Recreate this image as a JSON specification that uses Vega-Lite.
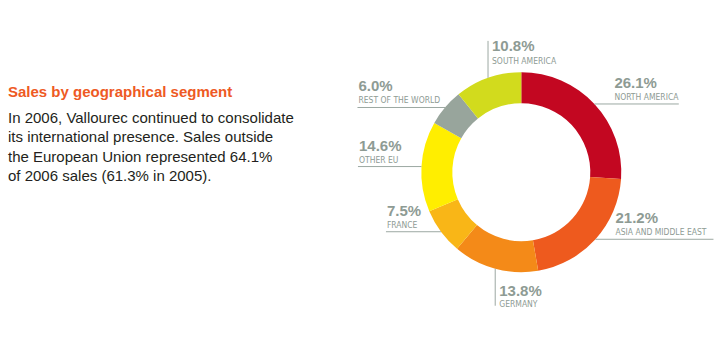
{
  "$schema": "https://vega.github.io/schema/vega-lite/v6.json",
  "width": 714,
  "height": 352,
  "autosize": {"type": "fit", "contains": "padding"},
  "padding": 0,
  "background": "white",
  "config": {"view": {"stroke": null}},
  "layer": [
    {
      "data": {"values": [
        {"region": "NORTH AMERICA", "share": 26.1},
        {"region": "ASIA AND MIDDLE EAST", "share": 21.2},
        {"region": "GERMANY", "share": 13.8},
        {"region": "FRANCE", "share": 7.5},
        {"region": "OTHER EU", "share": 14.6},
        {"region": "REST OF THE WORLD", "share": 6.0},
        {"region": "SOUTH AMERICA", "share": 10.8}
      ]},
      "transform": [
        {"window": [{"op": "row_number", "as": "idx"}]},
        {"stack": "share", "groupby": [], "sort": [{"field": "idx"}], "as": ["s0", "s1"]},
        {"calculate": "PI*(datum.s0+datum.s1)/100", "as": "mid"},
        {"calculate": "sin(datum.mid)", "as": "px"},
        {"calculate": "cos(datum.mid)", "as": "py"},
        {"calculate": "format(datum.share,'.1f')+'%'", "as": "pct"},
        {"calculate": "abs(datum.px)<0.5", "as": "vert"},
        {"calculate": "length(datum.pct)*0.085", "as": "wp"},
        {"calculate": "length(datum.region)*0.048", "as": "wn"},
        {"calculate": "datum.vert ? datum.px+0.04 : (datum.px>0 ? datum.px+0.2 : min(datum.px-0.2-datum.wp, datum.px-0.05-datum.wn))", "as": "tx"},
        {"calculate": "datum.vert ? datum.px : (datum.px>0 ? datum.tx+max(datum.wp,datum.wn)+0.02 : datum.tx-0.01)", "as": "ex"},
        {"calculate": "datum.vert ? (datum.py>0 ? datum.py+0.37 : datum.py-0.37) : datum.py", "as": "ey"},
        {"calculate": "datum.vert ? (datum.py>0 ? datum.ey-0.10 : datum.ey+0.10) : datum.py+0.16", "as": "pcty"},
        {"calculate": "datum.vert ? (datum.py>0 ? datum.ey-0.23 : datum.ey-0.016) : datum.py+0.04", "as": "namey"}
      ],
      "layer": [
        {
          "mark": {"type": "arc", "outerRadius": 100, "innerRadius": 69, "strokeWidth": 0},
          "encoding": {
            "theta": {"field": "share", "type": "quantitative", "stack": true},
            "order": {"field": "idx", "type": "quantitative"},
            "color": {
              "field": "region", "type": "nominal", "legend": null,
              "scale": {
                "domain": ["NORTH AMERICA", "ASIA AND MIDDLE EAST", "GERMANY", "FRANCE", "OTHER EU", "REST OF THE WORLD", "SOUTH AMERICA"],
                "range": ["#C30721", "#EE5A1E", "#F48A18", "#F9B617", "#FFEE00", "#98A59C", "#D2DB1D"]
              }
            },
            "x": {"datum": 0, "type": "quantitative", "scale": {"domain": [-5.213, 1.927], "nice": false, "zero": false}, "axis": null},
            "y": {"datum": 0, "type": "quantitative", "scale": {"domain": [-1.798, 1.722], "nice": false, "zero": false}, "axis": null}
          }
        },
        {
          "mark": {"type": "rule", "color": "#9CA8A2", "strokeWidth": 1},
          "encoding": {
            "x": {"field": "px", "type": "quantitative", "scale": {"domain": [-5.213, 1.927], "nice": false, "zero": false}, "axis": null},
            "y": {"field": "py", "type": "quantitative", "scale": {"domain": [-1.798, 1.722], "nice": false, "zero": false}, "axis": null},
            "x2": {"field": "ex"},
            "y2": {"field": "ey"}
          }
        },
        {
          "mark": {"type": "text", "align": "left", "baseline": "alphabetic", "font": "Liberation Sans", "fontWeight": "bold", "fontSize": 15, "color": "#8E9B94"},
          "encoding": {
            "x": {"field": "tx", "type": "quantitative", "scale": {"domain": [-5.213, 1.927], "nice": false, "zero": false}, "axis": null},
            "y": {"field": "pcty", "type": "quantitative", "scale": {"domain": [-1.798, 1.722], "nice": false, "zero": false}, "axis": null},
            "text": {"field": "pct"}
          }
        },
        {
          "mark": {"type": "text", "align": "left", "baseline": "alphabetic", "font": "DejaVu Sans Condensed, Liberation Sans, sans-serif", "fontSize": 8.5, "color": "#8E9B94"},
          "encoding": {
            "x": {"field": "tx", "type": "quantitative", "scale": {"domain": [-5.213, 1.927], "nice": false, "zero": false}, "axis": null},
            "y": {"field": "namey", "type": "quantitative", "scale": {"domain": [-1.798, 1.722], "nice": false, "zero": false}, "axis": null},
            "text": {"field": "region"}
          }
        }
      ]
    },
    {
      "data": {"values": [
        {"line": 0, "text": "Sales by geographical segment"},
        {"line": 1, "text": "In 2006, Vallourec continued to consolidate"},
        {"line": 2, "text": "its international presence. Sales outside"},
        {"line": 3, "text": "the European Union represented 64.1%"},
        {"line": 4, "text": "of 2006 sales (61.3% in 2005)."}
      ]},
      "transform": [
        {"calculate": "datum.line==0 ? 0.752 : 0.492-0.1933*(datum.line-1)", "as": "ty"}
      ],
      "layer": [
        {
          "transform": [{"filter": "datum.line==0"}],
          "mark": {"type": "text", "align": "left", "baseline": "alphabetic", "font": "Liberation Sans", "fontWeight": "bold", "fontSize": 15, "color": "#EE5A24"},
          "encoding": {
            "x": {"datum": -5.133, "type": "quantitative", "scale": {"domain": [-5.213, 1.927], "nice": false, "zero": false}, "axis": null},
            "y": {"field": "ty", "type": "quantitative", "scale": {"domain": [-1.798, 1.722], "nice": false, "zero": false}, "axis": null},
            "text": {"field": "text"}
          }
        },
        {
          "transform": [{"filter": "datum.line>0"}],
          "mark": {"type": "text", "align": "left", "baseline": "alphabetic", "font": "Liberation Sans", "fontSize": 15, "color": "#231F20"},
          "encoding": {
            "x": {"datum": -5.133, "type": "quantitative", "scale": {"domain": [-5.213, 1.927], "nice": false, "zero": false}, "axis": null},
            "y": {"field": "ty", "type": "quantitative", "scale": {"domain": [-1.798, 1.722], "nice": false, "zero": false}, "axis": null},
            "text": {"field": "text"}
          }
        }
      ]
    }
  ]
}
